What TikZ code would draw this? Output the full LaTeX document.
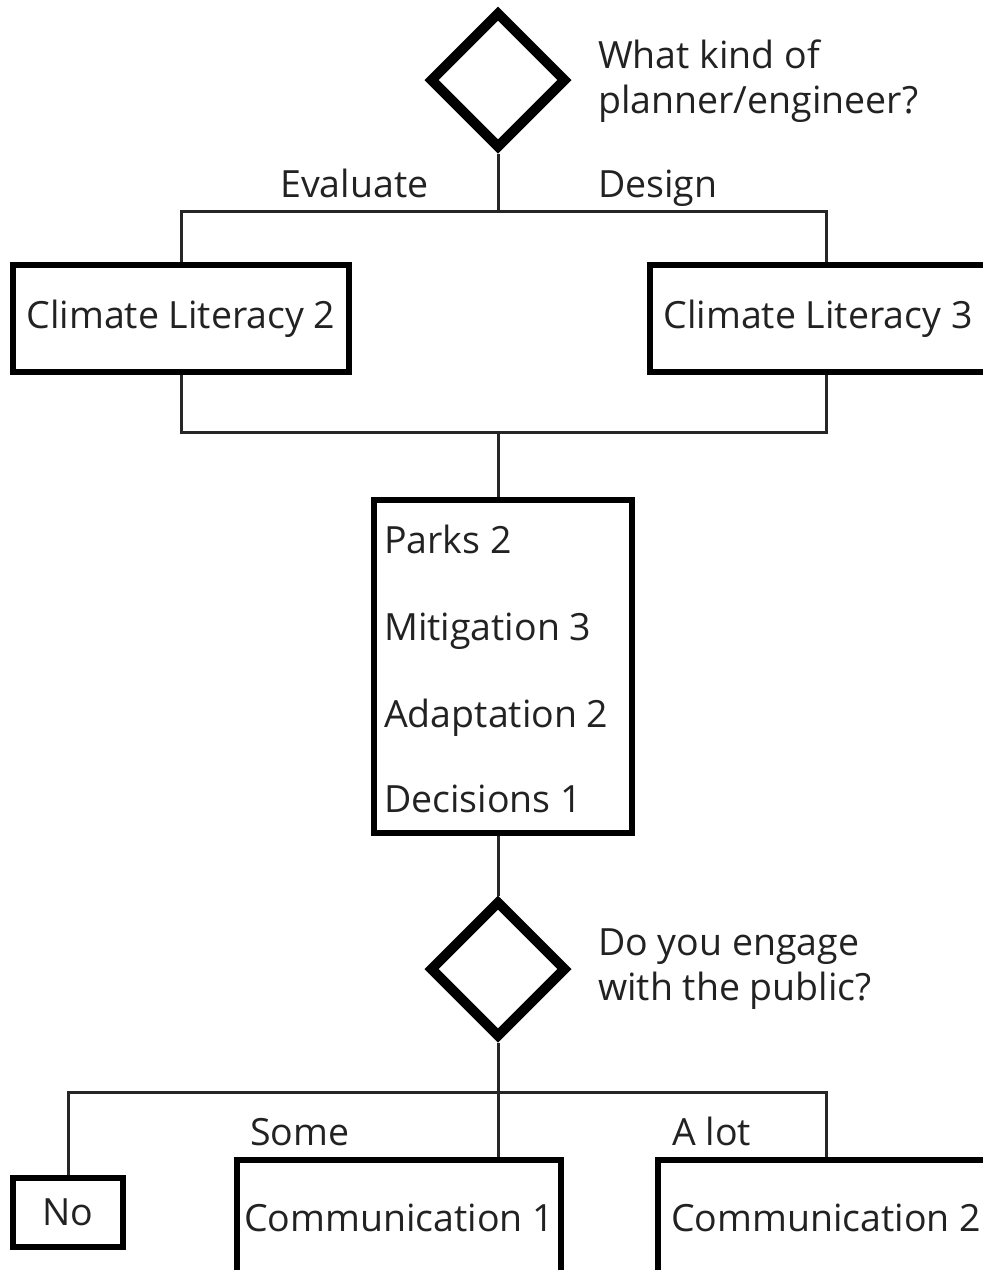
\documentclass[tikz,border=0pt]{standalone}
\usepackage{fontspec}
\setmainfont{Open Sans}
\usetikzlibrary{shapes.geometric}
\definecolor{txt}{HTML}{222222}
\begin{document}
\begin{tikzpicture}[x=1pt,y=-1pt,
  box/.style={draw=black, line width=6pt, rectangle, inner sep=0pt, font=\fontsize{37.5}{44}\selectfont, text=txt},
  dec/.style={draw=black, line width=10pt, diamond, aspect=1, inner sep=0pt, minimum width=137pt, minimum height=137pt},
  lbl/.style={font=\fontsize{37.5}{44}\selectfont, text=txt, inner sep=0pt, anchor=base west},
  conn/.style={draw=black!85, line width=3pt}]
\useasboundingbox (0,0) rectangle (983,1270);
\clip (0,0) rectangle (983,1270);
\fill[white] (0,0) rectangle (983,1270);

% top decision
\node[dec] (d1) at (498,80) {};
\node[lbl] (q1a) at (598,68) {What kind of};
\node[lbl] (q1b) at (598,113) {planner/engineer?};
\node[lbl] (ev) at (280,197) {Evaluate};
\node[lbl] (de) at (598,197) {Design};

% climate literacy boxes
\node[box, minimum width=336pt, minimum height=107pt] (cl2) at (181,318.5) {Climate Literacy 2};
\node[box, minimum width=336pt, minimum height=107pt] (cl3) at (818,318.5) {Climate Literacy 3};

% middle box
\node[box, minimum width=258pt, minimum height=333pt] (mid) at (503,666.5) {};
\node[lbl] (m1) at (384,553) {Parks 2};
\node[lbl] (m2) at (384,640) {Mitigation 3};
\node[lbl] (m3) at (384,727) {Adaptation 2};
\node[lbl] (m4) at (384,812) {Decisions 1};

% second decision
\node[dec] (d2) at (498,969) {};
\node[lbl] (q2a) at (598,955) {Do you engage};
\node[lbl] (q2b) at (598,1000) {with the public?};
\node[lbl] (so) at (250,1145) {Some};
\node[lbl] (al) at (672,1145) {A lot};

% bottom boxes
\node[box, minimum width=110pt, minimum height=69pt] (no) at (68,1212.5) {No};
\node[box, minimum width=324pt, minimum height=116pt] (c1) at (399,1218) {Communication 1};
\node[box, minimum width=336pt, minimum height=116pt] (c2) at (826,1218) {Communication 2};

% connectors
\coordinate (j1) at (498,211);
\coordinate (j2) at (498,432);
\coordinate (j3) at (498,1092);
\draw[conn] (d1.south) -- (j1);
\draw[conn] (cl2.north) |- (j1) -| ([xshift=8pt]cl3.north);
\draw[conn] (cl2.south) |- (j2) -| ([xshift=8pt]cl3.south);
\draw[conn] (j2) -- (j2 |- mid.north);
\draw[conn] (d2.north |- mid.south) -- (d2.north);
\draw[conn] (d2.south) -- (d2.south |- c1.north);
\draw[conn] (no.north) |- (j3) -| (c2.north);
\end{tikzpicture}
\end{document}
